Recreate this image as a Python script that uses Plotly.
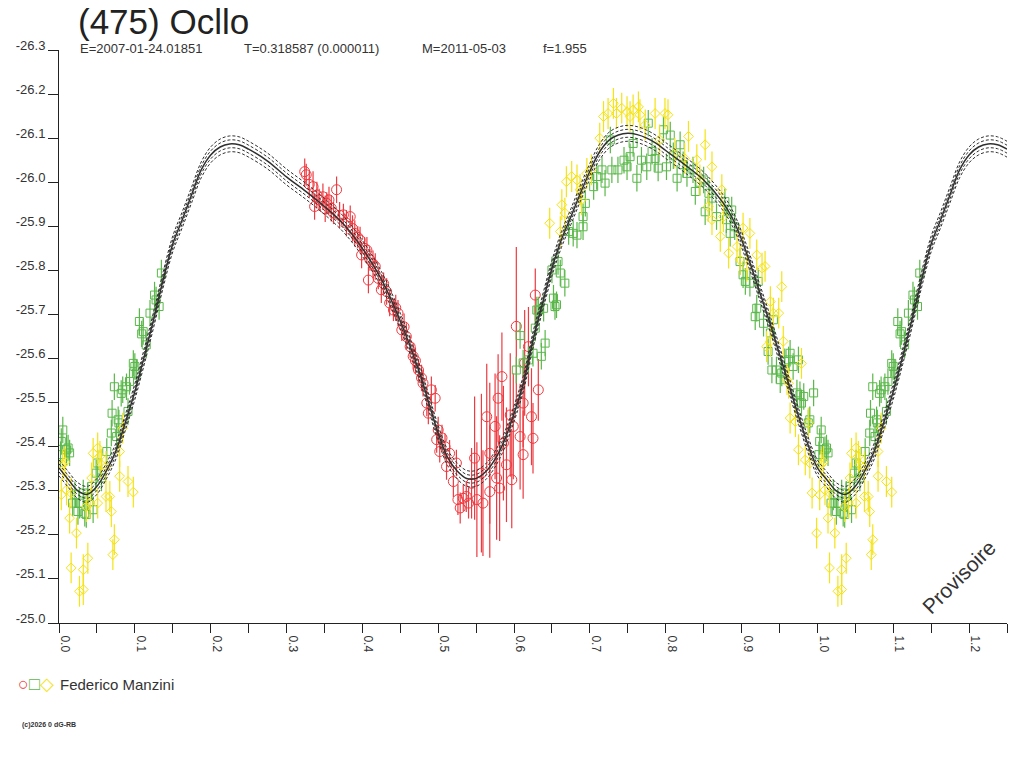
import plotly.graph_objects as go

# model curve (phase 0..1)
curve_phase = [0.0, 0.0125, 0.025, 0.0375, 0.05, 0.0625, 0.075, 0.0875, 0.1, 0.1125,
               0.125, 0.1375, 0.15, 0.1625, 0.175, 0.1875, 0.2, 0.2125, 0.225, 0.2375,
               0.25, 0.275, 0.3, 0.325, 0.35, 0.375, 0.4, 0.425, 0.45, 0.475,
               0.4875, 0.5, 0.5125, 0.525, 0.5375, 0.55, 0.5625, 0.575, 0.5875, 0.6,
               0.6125, 0.625, 0.6375, 0.65, 0.6625, 0.675, 0.6875, 0.7, 0.7125, 0.725,
               0.7375, 0.75, 0.7625, 0.775, 0.7875, 0.8, 0.825, 0.85, 0.875, 0.8875,
               0.9, 0.9125, 0.925, 0.9375, 0.95, 0.9625, 0.975, 0.9875, 1.0]
curve_mag = [-25.352, -25.325, -25.300, -25.292, -25.310, -25.345, -25.390, -25.455, -25.525, -25.605,
             -25.690, -25.780, -25.860, -25.915, -25.972, -26.028, -26.062, -26.080, -26.087, -26.085,
             -26.075, -26.048, -26.012, -25.980, -25.945, -25.905, -25.850, -25.780, -25.685, -25.570,
             -25.500, -25.430, -25.375, -25.345, -25.328, -25.328, -25.343, -25.372, -25.415, -25.475,
             -25.545, -25.642, -25.725, -25.805, -25.870, -25.922, -25.975, -26.025, -26.068, -26.095,
             -26.107, -26.111, -26.108, -26.100, -26.088, -26.072, -26.040, -26.005, -25.955, -25.920,
             -25.870, -25.810, -25.745, -25.680, -25.610, -25.540, -25.470, -25.405, -25.352]
band_offsets = [-0.018, -0.009, 0.009, 0.018]

# Federico Manzini, session 1 (red circles)
red_phase = [0.324, 0.326, 0.330, 0.335, 0.337, 0.340, 0.343, 0.348, 0.351, 0.353,
             0.356, 0.359, 0.362, 0.366, 0.370, 0.375, 0.379, 0.384, 0.387, 0.390,
             0.394, 0.397, 0.399, 0.403, 0.406, 0.408, 0.410, 0.414, 0.417, 0.421,
             0.425, 0.428, 0.432, 0.436, 0.441, 0.444, 0.447, 0.452, 0.455, 0.458,
             0.463, 0.467, 0.470, 0.474, 0.478, 0.480, 0.485, 0.487, 0.491, 0.496,
             0.498, 0.500, 0.502, 0.505, 0.509, 0.511, 0.515, 0.520, 0.524, 0.526,
             0.529, 0.533, 0.537, 0.540,
             0.544, 0.548, 0.551, 0.557, 0.559, 0.564, 0.568, 0.568, 0.575, 0.577,
             0.579, 0.581, 0.584, 0.586, 0.590, 0.595, 0.597, 0.599, 0.603, 0.608,
             0.612, 0.612, 0.614, 0.619, 0.623, 0.625, 0.628, 0.632]
red_mag = [-26.024, -26.017, -25.995, -25.990, -25.945, -25.971, -25.960, -25.967, -25.940, -25.952,
           -25.960, -25.941, -25.930, -25.983, -25.925, -25.926, -25.907, -25.922, -25.895, -25.884,
           -25.875, -25.869, -25.835, -25.850, -25.846, -25.778, -25.824, -25.815, -25.809, -25.782,
           -25.756, -25.770, -25.752, -25.726, -25.710, -25.715, -25.703, -25.665, -25.672, -25.650,
           -25.627, -25.605, -25.595, -25.574, -25.556, -25.544, -25.499, -25.476, -25.529, -25.510,
           -25.416, -25.438, -25.389, -25.420, -25.400, -25.355, -25.385, -25.321, -25.363, -25.280,
           -25.261, -25.283, -25.287, -25.272,
           -25.317, -25.374, -25.280, -25.340, -25.272, -25.468, -25.385, -25.298, -25.446, -25.329,
           -25.510, -25.306, -25.559, -25.408, -25.359, -25.472, -25.325, -25.446, -25.673, -25.423,
           -25.499, -25.382, -25.590, -25.627, -25.468, -25.419, -25.744, -25.529]
red_err = [0.030, 0.025, 0.030, 0.035, 0.030, 0.030, 0.025, 0.030, 0.030, 0.025,
           0.030, 0.030, 0.025, 0.030, 0.030, 0.025, 0.030, 0.025, 0.030, 0.030,
           0.025, 0.030, 0.030, 0.025, 0.030, 0.030, 0.025, 0.030, 0.030, 0.025,
           0.030, 0.025, 0.030, 0.030, 0.025, 0.030, 0.030, 0.025, 0.030, 0.030,
           0.025, 0.030, 0.030, 0.025, 0.030, 0.030, 0.030, 0.025, 0.030, 0.030,
           0.030, 0.030, 0.025, 0.030, 0.030, 0.030, 0.030, 0.035, 0.030, 0.035,
           0.035, 0.030, 0.035, 0.035,
           0.08, 0.14, 0.13, 0.18, 0.12, 0.12, 0.16, 0.15, 0.12, 0.14,
           0.10, 0.12, 0.10, 0.13, 0.13, 0.14, 0.11, 0.12, 0.18, 0.12,
           0.10, 0.10, 0.12, 0.09, 0.11, 0.08, 0.06, 0.07]

# session 2 (green squares)
green_phase = [0.002, 0.003, 0.005, 0.010, 0.012, 0.014, 0.018, 0.021, 0.025, 0.027,
               0.032, 0.034, 0.036, 0.038, 0.043, 0.045, 0.049, 0.051, 0.056, 0.063,
               0.069, 0.070, 0.073, 0.076, 0.078, 0.079, 0.082, 0.084, 0.089, 0.091,
               0.093, 0.098, 0.100, 0.102, 0.106, 0.109, 0.111, 0.115, 0.120, 0.126,
               0.128, 0.132, 0.135,
               0.603, 0.608, 0.612, 0.619, 0.625, 0.628, 0.630, 0.632, 0.636, 0.639,
               0.641, 0.650, 0.652, 0.654, 0.656, 0.658, 0.661, 0.667, 0.672, 0.678,
               0.683, 0.691, 0.691, 0.694, 0.705, 0.709, 0.716, 0.720, 0.727, 0.729,
               0.737, 0.745, 0.749, 0.753, 0.757, 0.762, 0.768, 0.775, 0.777, 0.782,
               0.786, 0.790, 0.797, 0.801, 0.806, 0.810, 0.815, 0.819, 0.823, 0.828,
               0.836, 0.839, 0.845, 0.850, 0.852, 0.857, 0.861, 0.867, 0.878, 0.880,
               0.885, 0.887, 0.891, 0.898, 0.902, 0.905, 0.911, 0.918, 0.920, 0.922,
               0.929, 0.935, 0.938, 0.940, 0.942, 0.946, 0.951, 0.953, 0.957, 0.962,
               0.964, 0.968, 0.973, 0.975, 0.977, 0.979, 0.982, 0.988, 0.990, 0.995]
green_mag = [-25.382, -25.412, -25.438, -25.393, -25.397, -25.386, -25.272, -25.291, -25.253, -25.272,
             -25.295, -25.249, -25.246, -25.287, -25.310, -25.257, -25.340, -25.363, -25.329, -25.389,
             -25.431, -25.476, -25.536, -25.423, -25.461, -25.454, -25.521, -25.529, -25.536, -25.480,
             -25.548, -25.589, -25.582, -25.567, -25.684, -25.656, -25.661, -25.631, -25.703, -25.744,
             -25.733, -25.718, -25.794,
             -25.574, -25.652, -25.590, -25.597, -25.612, -25.669, -25.710, -25.710, -25.605, -25.714,
             -25.635, -25.801, -25.737, -25.718, -25.722, -25.820, -25.794, -25.771, -25.888, -25.884,
             -25.880, -25.899, -25.922, -25.952, -25.990, -26.013, -26.028, -25.998, -26.096, -26.028,
             -26.028, -26.050, -26.035, -26.058, -26.088, -26.009, -26.050, -26.035, -26.134, -26.070,
             -26.054, -26.032, -26.119, -26.035, -26.107, -26.060, -26.009, -26.085, -26.040, -26.020,
             -26.028, -25.979, -26.000, -26.005, -25.933, -25.975, -25.964, -25.922, -25.956, -25.915,
             -25.884, -25.937, -25.899, -25.820, -25.790, -25.775, -25.771, -25.695, -25.714, -25.775,
             -25.680, -25.616, -25.658, -25.574, -25.688, -25.574, -25.552, -25.567, -25.593, -25.597,
             -25.612, -25.582, -25.522, -25.597, -25.518, -25.499, -25.514, -25.454, -25.461, -25.522]
green_err = [0.030] * 3 + [0.035, 0.030, 0.030, 0.030, 0.030, 0.030, 0.035] + [0.030] * 127

# session 3 (yellow diamonds)
yellow_phase = [0.003, 0.005, 0.008, 0.010, 0.014, 0.016, 0.016, 0.023, 0.027, 0.032,
                0.032, 0.036, 0.038, 0.041, 0.043, 0.045, 0.051, 0.051, 0.054, 0.056,
                0.062, 0.062, 0.067, 0.069, 0.071, 0.073, 0.080, 0.080, 0.084, 0.091,
                0.098,
                0.647, 0.661, 0.663, 0.667, 0.669, 0.676, 0.683, 0.687, 0.689, 0.696,
                0.702, 0.713, 0.718, 0.724, 0.731, 0.735, 0.742, 0.749, 0.753, 0.757,
                0.764, 0.766, 0.773, 0.786, 0.792, 0.799, 0.803, 0.812, 0.825, 0.830,
                0.841, 0.845, 0.852, 0.856, 0.861, 0.861, 0.872, 0.874, 0.876, 0.883,
                0.894, 0.898, 0.902, 0.907, 0.911, 0.920, 0.927, 0.931, 0.933, 0.938,
                0.938, 0.942, 0.949, 0.953, 0.955, 0.960, 0.962, 0.964, 0.971, 0.975,
                0.979, 0.984, 0.988, 0.990, 0.993, 0.999]
yellow_mag = [-25.291, -25.359, -25.366, -25.302, -25.238, -25.295, -25.125, -25.204, -25.072, -25.121,
              -25.076, -25.264, -25.147, -25.272, -25.329, -25.385, -25.397, -25.272, -25.378, -25.359,
              -25.287, -25.355, -25.287, -25.253, -25.155, -25.189, -25.389, -25.333, -25.442, -25.321,
              -25.297,
              -25.907, -25.888, -25.949, -25.930, -26.001, -26.013, -26.005, -25.983, -25.960, -26.020,
              -26.028, -26.100, -26.149, -26.156, -26.179, -26.156, -26.168, -26.160, -26.149, -26.164,
              -26.171, -26.153, -26.130, -26.156, -26.096, -26.156, -26.153, -26.066, -26.054, -26.104,
              -26.051, -26.005, -26.085, -25.945, -26.035, -25.915, -25.877, -25.983, -25.922, -25.839,
              -25.854, -25.824, -25.896, -25.809, -25.884, -25.835, -25.805, -25.809, -25.627, -25.729,
              -25.639, -25.703, -25.703, -25.763, -25.639, -25.552, -25.544, -25.465, -25.457, -25.393,
              -25.589, -25.370, -25.454, -25.363, -25.295, -25.204]
yellow_err = [0.035] * 97

x_ticks = [0.0, 0.1, 0.2, 0.3, 0.4, 0.5, 0.6, 0.7, 0.8, 0.9, 1.0, 1.1, 1.2]
y_ticks = [-26.3, -26.2, -26.1, -26.0, -25.9, -25.8, -25.7, -25.6, -25.5, -25.4,
           -25.3, -25.2, -25.1, -25.0]
y_labels = ["-26.3", "-26.2", "-26.1", "-26.0", "-25.9", "-25.8", "-25.7", "-25.6", "-25.5",
            "-25.4", "-25.3", "-25.2", "-25.1", "-25.0"]

PHASE_MAX = 1.25
FONT = "Liberation Sans, Arial, sans-serif"
RED, GREEN, YELLOW = "#ee3a40", "#5ab84a", "#f5e314"


def fold(ph, mag, err=None):
    # points are shown once more one period later, up to the end of the axis
    xs, ys, es = list(ph), list(mag), list(err) if err else None
    for i, p in enumerate(ph):
        if p + 1 <= PHASE_MAX:
            xs.append(p + 1)
            ys.append(mag[i])
            if err:
                es.append(err[i])
    return xs, ys, es


def series(ph, mag, err, color, symbol, size):
    xs, ys, es = fold(ph, mag, err)
    return go.Scatter(x=xs, y=ys, mode="markers", showlegend=False,
                      marker=dict(symbol=symbol, size=size, color=color,
                                  line=dict(color=color, width=1)),
                      error_y=dict(type="data", array=es, color=color,
                                   thickness=1.2, width=0))


fig = go.Figure()
fig.add_trace(series(red_phase, red_mag, red_err, RED, "circle-open", 10))
fig.add_trace(series(green_phase, green_mag, green_err, GREEN, "square-open", 8))
fig.add_trace(series(yellow_phase, yellow_mag, yellow_err, YELLOW, "diamond-open", 7.5))

cx, cy, _ = fold(curve_phase[:-1], curve_mag[:-1])
order = sorted(range(len(cx)), key=lambda i: cx[i])
cx = [cx[i] for i in order]
cy = [cy[i] for i in order]
for off in band_offsets:
    fig.add_trace(go.Scatter(x=cx, y=[v + off for v in cy], mode="lines", showlegend=False,
                             line=dict(color="#303030", width=1, dash="3px,2px", shape="spline")))
fig.add_trace(go.Scatter(x=cx, y=cy, mode="lines", showlegend=False,
                         line=dict(color="#303030", width=1.5, shape="spline")))

# plot area in screen pixels (page margin is removed below)
W, H = 1024, 768
L, R, T, B = 59, 1007, 50, 623


def px(x):
    return (x - L) / (R - L)


def py(y):
    return (B - y) / (B - T)


ann = [
    dict(text="(475) Ocllo", x=px(76), y=py(21), font=dict(size=35, color="#222")),
    dict(text="E=2007-01-24.01851", x=px(78), y=py(48), font=dict(size=13, color="#333")),
    dict(text="T=0.318587 (0.000011)", x=px(242), y=py(48), font=dict(size=13, color="#333")),
    dict(text="M=2011-05-03", x=px(420), y=py(48), font=dict(size=13, color="#333")),
    dict(text="f=1.955", x=px(541), y=py(48), font=dict(size=13, color="#333")),
    dict(text=f"<span style='color:{RED}'>○</span><span style='color:{GREEN}'>□</span>"
              f"<span style='color:{YELLOW}'>◇</span>",
         x=px(16), y=py(684), font=dict(size=18)),
    dict(text="Federico Manzini", x=px(58), y=py(684), font=dict(size=15, color="#333")),
    dict(text="<b>(c)2026 0 dG-RB</b>", x=px(20), y=py(725), font=dict(size=7, color="#333")),
]
annotations = []
for a in ann:
    a.update(xref="paper", yref="paper", xanchor="left", yanchor="middle", showarrow=False)
    a["font"]["family"] = FONT
    annotations.append(a)
annotations.append(dict(text="Provisoire", x=px(958), y=py(577), xref="paper", yref="paper",
                        xanchor="center", yanchor="middle", showarrow=False, textangle=-45,
                        font=dict(family=FONT, size=21, color="#333")))

fig.update_layout(
    width=W, height=H,
    margin=dict(l=L, r=W - R, t=T, b=H - B),
    paper_bgcolor="white", plot_bgcolor="white",
    font=dict(family=FONT, size=12, color="#333"),
    annotations=annotations,
    xaxis=dict(range=[0, PHASE_MAX], tickvals=x_ticks, tickformat=".1f",
               ticks="outside", ticklen=9, tickcolor="#222", tickangle=90,
               ticklabelshift=6,
               minor=dict(dtick=0.05, tick0=0, ticks="outside", ticklen=9, tickcolor="#222"),
               showline=True, linecolor="#222", linewidth=1, showgrid=False, zeroline=False),
    yaxis=dict(range=[-25.0, -26.3], tickvals=y_ticks, ticktext=y_labels,
               ticks="outside", ticklen=10, tickcolor="#222", ticklabelshift=5,
               showline=True, linecolor="#222", linewidth=1, showgrid=False, zeroline=False,
               tickfont=dict(size=13)),
)

fig.write_html("out.html", config={"displayModeBar": False},
               post_script="document.body.style.margin = '0px';")
